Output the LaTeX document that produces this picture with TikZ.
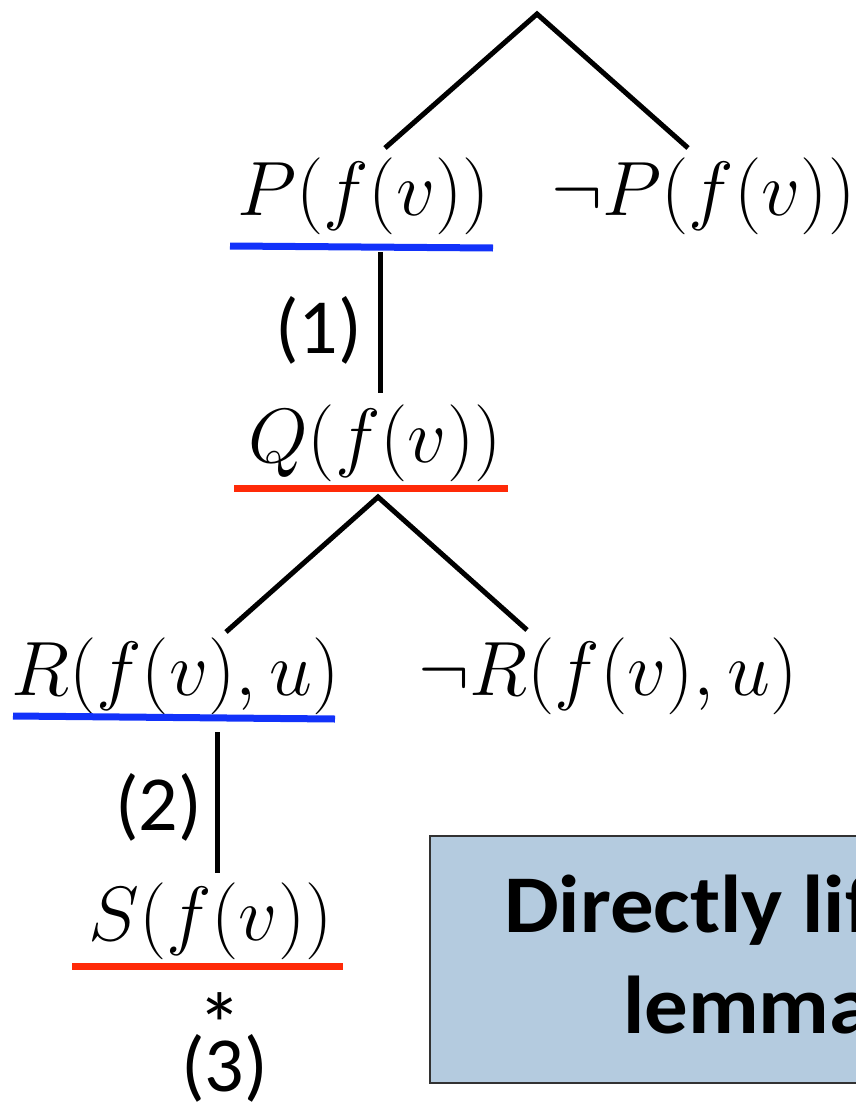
\RequirePackage{fix-cm}
\documentclass[tikz,border=0pt]{standalone}
\usepackage{fontspec}
\newfontfamily\calfont{Carlito}
\newfontfamily\calboxfont[FakeStretch=1.06]{Carlito}
\definecolor{ulblue}{RGB}{18,50,250}
\definecolor{ulred}{RGB}{255,42,8}
\definecolor{boxfill}{RGB}{180,203,223}
\definecolor{boxline}{RGB}{50,50,50}
\tikzset{
  mtxt/.style={inner sep=0pt, anchor=base west, font=\fontsize{77}{90}\selectfont},
  lbl/.style={inner sep=0pt, anchor=base west, font=\calfont\fontsize{78}{90}\selectfont},
  boxtxt/.style={inner sep=0pt, anchor=base west, font=\calboxfont\bfseries\fontsize{82}{95}\selectfont},
  edge/.style={line width=5pt, black},
  ulb/.style={line width=7pt, ulblue},
  ulr/.style={line width=7pt, ulred},
}
\begin{document}
\begin{tikzpicture}[x=1pt,y=-1pt]
\useasboundingbox (0,0) rectangle (856,1108);
\clip (0,0) rectangle (856,1108);
% math nodes
\node[mtxt] (p)  at (237,215) {$P(f(v))$};
\node[mtxt] (np) at (551,215) {$\neg P(f(v))$};
\node[mtxt] (q)  at (248,462) {$Q(f(v))$};
\node[mtxt] (r)  at (11,695)  {$R(f(v),u)$};
\node[mtxt] (nr) at (418,695) {$\neg R(f(v),u)$};
\node[mtxt] (s)  at (88,940)  {$S(f(v))$};
% labels
\node[lbl] (l1) at (275,353) {(1)};
\node[lbl] (l2) at (115,830) {(2)};
\node[lbl, anchor=base, font=\calfont\fontsize{90}{100}\selectfont] (star) at (220,1056) {\smash{*}};
\node[lbl] (l3) at (181,1091) {(3)};
% tree coordinates
\coordinate (top) at (537,14);
\coordinate (pe) at (385,148);
\coordinate (npe) at (688,148);
\coordinate (qtop) at (378,497);
\coordinate (re) at (226,632);
\coordinate (nre) at (527,630);
\coordinate (v1a) at (380,252);
\coordinate (v1b) at (380,393);
\coordinate (v2a) at (217,732);
\coordinate (v2b) at (217,873);
\draw[edge] (pe) -- (top) -- (npe);
\draw[edge] (re) -- (qtop) -- (nre);
\draw[edge] (v1a) -- (v1b);
\draw[edge] (v2a) -- (v2b);
% underlines
\draw[ulb] (230,246) -- (493,248);
\draw[ulr] (234,488) -- (508,488);
\draw[ulb] (13,716) -- (335,719);
\draw[ulr] (72,966) -- (343,966);
% box
\draw[line width=2pt, draw=boxline, fill=boxfill] (430,836) rectangle (1000,1083);
\node[boxtxt] (b1) at (504,932) {Directly lifted};
\node[boxtxt] (b2) at (623,1033) {lemma};
\end{tikzpicture}
\end{document}
